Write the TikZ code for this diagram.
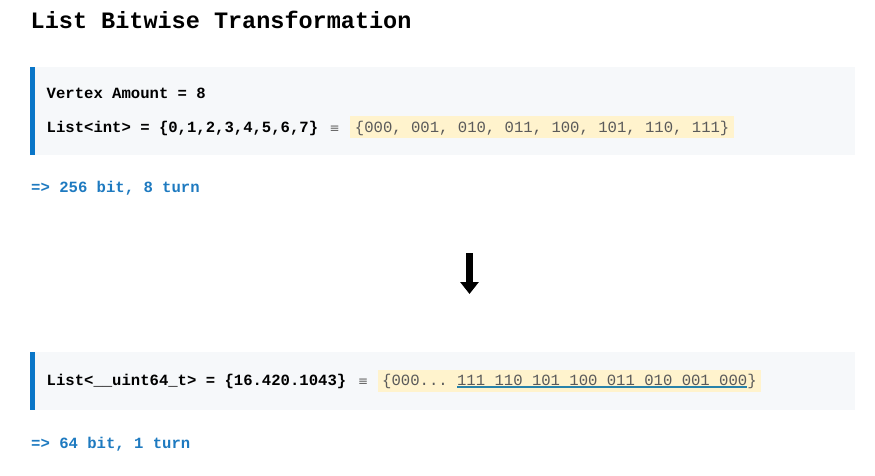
\documentclass[tikz,border=0pt]{standalone}
\usepackage{fontspec}
\setmainfont{Liberation Serif}
\setmonofont{Liberation Mono}
\newfontfamily\eqfont{DejaVu Sans}
\usetikzlibrary{positioning}
\usetikzlibrary{arrows.meta}

\definecolor{barblue}{RGB}{10,118,200}
\definecolor{boxgray}{RGB}{246,248,250}
\definecolor{hlyellow}{RGB}{255,243,205}
\definecolor{hltext}{RGB}{90,90,90}
\definecolor{eqgray}{RGB}{95,95,95}
\definecolor{noteblue}{RGB}{30,122,192}
\definecolor{ulblue}{RGB}{40,130,170}

% underline in its own colour
\newcommand{\ulbits}[1]{\setbox0\hbox{#1}\rlap{\color{ulblue}\rule[-2.6pt]{\wd0}{1.2pt}}\box0}

\begin{document}
\begin{tikzpicture}[x=1pt,y=-1pt,
    txt/.style={anchor=base west, inner sep=0pt, font=\ttfamily\bfseries\fontsize{15.6}{18}\selectfont},
    titletext/.style={anchor=base west, inner sep=0pt, font=\ttfamily\bfseries\fontsize{23.5}{28}\selectfont},
    note/.style={txt, text=noteblue},
    eqsign/.style={inner sep=0pt, text=eqgray, font=\eqfont\fontsize{12}{14}\selectfont},
    hlbox/.style={fill=hlyellow, inner xsep=4.5pt, inner ysep=2pt, text height=13.5pt, text depth=4.5pt,
        text=hltext, font=\ttfamily\fontsize{15.6}{18}\selectfont},
    arrowline/.style={line width=7pt, -{Triangle[width=18pt,length=12pt]}}]

\useasboundingbox (0,0) rectangle (875,476);

\coordinate (arrowtop) at (469.5,253);
\coordinate (arrowtip) at (469.5,294);

\newcommand{\quotebox}[2]{
    \fill[boxgray] (34,#1) rectangle (855,#2);
    \fill[barblue] (30,#1) rectangle (34.5,#2);
}

\node[titletext] (title) at (30.5,28.3) {List Bitwise Transformation};

%% first block
\quotebox{67}{155}
\node[txt] (vertex) at (46.5,98.3) {Vertex Amount = 8};
\node[txt] (listint) at (46.5,132) {List<int> = \{0,1,2,3,4,5,6,7\}};
\node[eqsign, base right=11pt of listint] (eqa) {≡};
\node[hlbox, base right=10.4pt of eqa] (hla) {\{000, 001, 010, 011, 100, 101, 110, 111\}};
\node[note] (notea) at (31,192.7) {=> 256 bit, 8 turn};

\draw[arrowline] (arrowtop) -- (arrowtip);

%% second block
\quotebox{352}{410}
\node[txt] (listuint) at (46.5,385) {List<\_\_uint64\_t> = \{16.420.1043\}};
\node[eqsign, base right=11.5pt of listuint] (eqb) {≡};
\node[hlbox, base right=9.1pt of eqb] (hlb) {\{000... \ulbits{111 110 101 100 011 010 001 000}\}};
\node[note] (noteb) at (31,448.3) {=> 64 bit, 1 turn};

\end{tikzpicture}
\end{document}
